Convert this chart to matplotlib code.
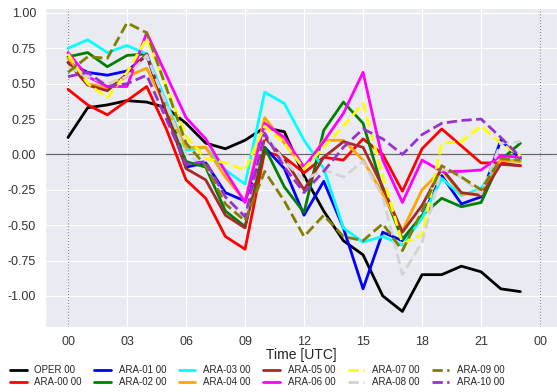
import numpy as np
import matplotlib
matplotlib.use("Agg")
import matplotlib.pyplot as plt
import seaborn as sns

sns.set_style("darkgrid")
plt.rcParams['font.family'] = ['Liberation Sans', 'DejaVu Sans']

# hourly values, 00 to 23 UTC
hours = np.arange(24)

oper = [0.12, 0.33, 0.35, 0.38, 0.37, 0.33, 0.22, 0.08, 0.04, 0.10, 0.19, 0.16,
        -0.15, -0.40, -0.61, -0.71, -1.00, -1.11, -0.85, -0.85, -0.79, -0.83, -0.95, -0.97]
ara00 = [0.46, 0.35, 0.28, 0.38, 0.48, 0.18, -0.18, -0.31, -0.58, -0.67, 0.02, -0.02,
         -0.13, -0.02, -0.04, 0.11, 0.00, -0.26, 0.04, 0.18, 0.06, -0.06, -0.06, -0.08]
ara01 = [0.65, 0.58, 0.56, 0.59, 0.70, 0.30, -0.09, -0.06, -0.27, -0.33, 0.05, -0.10,
         -0.43, -0.19, -0.52, -0.95, -0.55, -0.61, -0.44, -0.15, -0.35, -0.30, 0.10, -0.03]
ara02 = [0.69, 0.72, 0.62, 0.70, 0.71, 0.33, -0.05, -0.09, -0.40, -0.51, 0.05, -0.23,
         -0.41, 0.17, 0.37, 0.22, -0.25, -0.60, -0.43, -0.31, -0.37, -0.34, -0.04, 0.08]
ara03 = [0.75, 0.81, 0.72, 0.77, 0.71, 0.37, 0.03, 0.05, -0.11, -0.21, 0.44, 0.36,
         0.10, -0.10, -0.52, -0.62, -0.58, -0.64, -0.45, -0.17, -0.29, -0.24, -0.04, -0.04]
ara04 = [0.68, 0.50, 0.47, 0.55, 0.61, 0.33, 0.05, 0.05, -0.16, -0.33, 0.26, 0.08,
         -0.10, 0.10, 0.10, -0.04, -0.28, -0.54, -0.25, -0.11, -0.28, -0.28, -0.04, -0.05]
ara05 = [0.65, 0.49, 0.45, 0.57, 0.71, 0.30, -0.10, -0.18, -0.43, -0.52, 0.12, -0.03,
         -0.25, -0.02, 0.09, 0.05, -0.23, -0.55, -0.36, -0.10, -0.27, -0.29, -0.07, -0.08]
ara06 = [0.72, 0.55, 0.48, 0.48, 0.86, 0.56, 0.26, 0.11, -0.12, -0.34, 0.22, 0.12,
         -0.09, 0.09, 0.29, 0.58, -0.04, -0.34, -0.04, -0.12, -0.12, -0.11, -0.01, -0.02]
ara07 = [0.71, 0.50, 0.40, 0.58, 0.82, 0.48, 0.13, -0.03, -0.06, -0.11, 0.20, 0.08,
         -0.10, 0.05, 0.20, 0.36, -0.15, -0.63, -0.57, 0.08, 0.09, 0.20, 0.08, -0.01]
ara08 = [0.62, 0.55, 0.50, 0.55, 0.70, 0.35, 0.00, -0.08, -0.30, -0.45, 0.15, -0.05,
         -0.18, -0.11, -0.16, -0.05, -0.30, -0.85, -0.62, -0.10, -0.16, -0.28, 0.08, 0.09]
ara09 = [0.58, 0.69, 0.68, 0.93, 0.86, 0.47, 0.08, -0.08, -0.35, -0.47, -0.12, -0.33,
         -0.58, -0.43, -0.58, -0.61, -0.49, -0.68, -0.40, -0.08, -0.16, -0.25, -0.03, -0.04]
ara10 = [0.55, 0.58, 0.48, 0.50, 0.56, 0.25, -0.07, -0.05, -0.30, -0.44, 0.15, -0.09,
         -0.27, -0.12, 0.05, 0.18, 0.11, 0.00, 0.14, 0.22, 0.24, 0.25, 0.12, -0.02]

series = [
    ("OPER 00", oper, "black", "-"),
    ("ARA-00 00", ara00, "red", "-"),
    ("ARA-01 00", ara01, "blue", "-"),
    ("ARA-02 00", ara02, "green", "-"),
    ("ARA-03 00", ara03, "cyan", "-"),
    ("ARA-04 00", ara04, "orange", "-"),
    ("ARA-05 00", ara05, "brown", "-"),
    ("ARA-06 00", ara06, "magenta", "-"),
    ("ARA-07 00", ara07, "yellow", "--"),
    ("ARA-08 00", ara08, "lightgray", "--"),
    ("ARA-09 00", ara09, "olive", "--"),
    ("ARA-10 00", ara10, "darkorchid", "--"),
]

xticks = np.arange(0, 25, 3)
xlabels = ["00", "03", "06", "09", "12", "15", "18", "21", "00"]

fig = plt.figure(figsize=(5.57, 3.92), dpi=100)
ax = fig.add_axes([45/557, 65/392, 512/557, 319/392])

for name, vals, col, ls in series:
    ax.plot(hours, vals, color=col, linestyle=ls, linewidth=2, label=name)

ax.axhline(0, color="dimgray", linewidth=0.9, zorder=1)
ax.axvline(0, color="gray", linestyle=":", linewidth=0.8, zorder=1)
ax.axvline(24, color="gray", linestyle=":", linewidth=0.8, zorder=1)

ax.set_xlim(-1.17, 24.86)
ax.set_ylim(-1.22, 1.035)
ax.set_xticks(xticks)
ax.set_xticklabels(xlabels)
ax.set_yticks(np.arange(-1.0, 1.01, 0.25))
ax.set_yticklabels(["%.2f" % v for v in np.arange(-1.0, 1.01, 0.25)])
ax.tick_params(labelsize=9, colors="#333333", pad=3)
ax.set_xlabel("Time [UTC]", fontsize=10, color="#222222", labelpad=0)

fig.legend(*ax.get_legend_handles_labels(), loc="center left",
           bbox_to_anchor=(10/557, 1 - 376/392), ncol=6, frameon=False,
           fontsize=7, handlelength=1.7, columnspacing=1.3, handletextpad=0.8,
           labelspacing=0.2, borderpad=0, borderaxespad=0)

fig.savefig("out.png", dpi=100)
